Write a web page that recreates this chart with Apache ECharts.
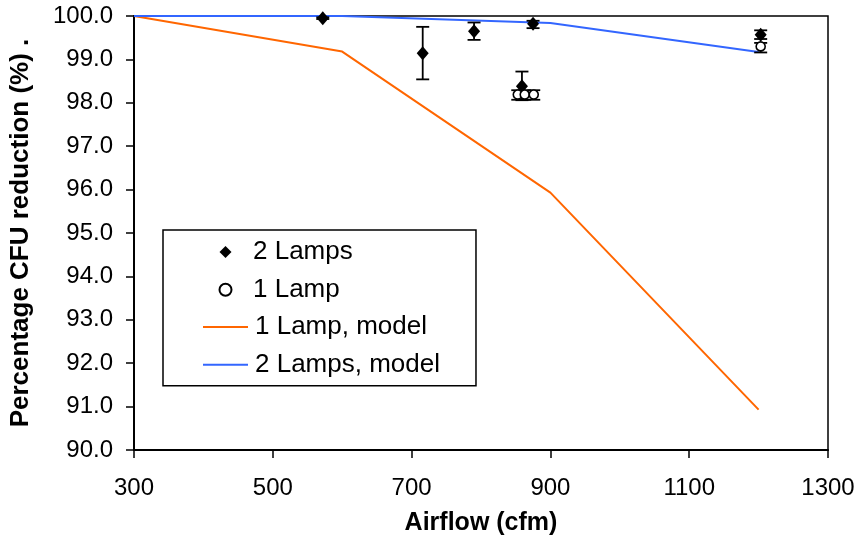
<!DOCTYPE html>
<html>
<head>
<meta charset="utf-8">
<script src="https://cdn.jsdelivr.net/npm/echarts@6/dist/echarts.min.js"></script>
<style>
html,body{margin:0;padding:0;background:#fff;}
#chart{width:858px;height:543px;}
</style>
</head>
<body>
<div id="chart"></div>
<script>
// ---- data ----
const twoLampsX   = [572, 716, 790, 875, 859, 1203];
const twoLampsY   = [99.95, 99.14, 99.65, 99.82, 98.38, 99.57];
const twoLampsLo  = [99.93, 98.54, 99.45, 99.72, 98.06, 99.47];
const twoLampsHi  = [99.97, 99.75, 99.85, 99.89, 98.72, 99.67];

const oneLampX    = [853, 863, 876, 1203];
const oneLampY    = [98.19, 98.19, 98.19, 99.30];
const oneLampLo   = [98.07, 98.07, 98.07, 99.16];
const oneLampHi   = [98.29, 98.29, 98.29, 99.38];

const modelX        = [300, 600, 900, 1200];
const oneLampModel  = [100.0, 99.18, 95.93, 90.93];
const twoLampsModel = [100.0, 100.0, 99.84, 99.17];

const xTicks = [300, 500, 700, 900, 1100, 1300];
const yTicks = [90, 91, 92, 93, 94, 95, 96, 97, 98, 99, 100];

const FONT = '"Liberation Sans", Arial, sans-serif';

function zip(a, b) { return a.map((v, i) => [v, b[i]]); }
function zip3(a, b, c) { return a.map((v, i) => [v, b[i], c[i]]); }

function errRender(params, api) {
  const x = api.value(0), lo = api.value(1), hi = api.value(2);
  const pLo = api.coord([x, lo]), pHi = api.coord([x, hi]);
  const w = 6.5;
  const st = { stroke: '#000', lineWidth: 1.8 };
  return {
    type: 'group',
    children: [
      { type: 'line', shape: { x1: pLo[0], y1: pLo[1], x2: pHi[0], y2: pHi[1] }, style: st },
      { type: 'line', shape: { x1: pLo[0] - w, y1: pLo[1], x2: pLo[0] + w, y2: pLo[1] }, style: st },
      { type: 'line', shape: { x1: pHi[0] - w, y1: pHi[1], x2: pHi[0] + w, y2: pHi[1] }, style: st }
    ]
  };
}

const legendText = { fontFamily: FONT, fontSize: 26, color: '#000' };

const chart = echarts.init(document.getElementById('chart'));
chart.setOption({
  animation: false,
  backgroundColor: '#fff',
  grid: { left: 133, right: 30, top: 16, bottom: 93, show: true, borderColor: '#000', borderWidth: 1.5 },
  xAxis: {
    type: 'value', min: xTicks[0], max: xTicks[xTicks.length - 1], interval: 200,
    name: 'Airflow (cfm)', nameLocation: 'middle', nameGap: 61,
    nameTextStyle: { fontFamily: FONT, fontSize: 25, fontWeight: 'bold', color: '#000' },
    axisLine: { lineStyle: { color: '#000', width: 2 } },
    axisTick: { show: true, inside: false, length: 8, lineStyle: { color: '#000', width: 1.5 } },
    axisLabel: { fontFamily: FONT, fontSize: 24, color: '#000', margin: 26, formatter: v => String(v) },
    splitLine: { show: false }
  },
  yAxis: {
    type: 'value', min: yTicks[0], max: yTicks[yTicks.length - 1], interval: 1,
    name: 'Percentage CFU reduction (%) .', nameLocation: 'middle', nameGap: 100,
    nameTextStyle: { fontFamily: FONT, fontSize: 26, fontWeight: 'bold', color: '#000' },
    axisLine: { lineStyle: { color: '#000', width: 2 } },
    axisTick: { show: true, inside: false, length: 8, lineStyle: { color: '#000', width: 1.5 } },
    axisLabel: { fontFamily: FONT, fontSize: 24, color: '#000', margin: 21, formatter: v => v.toFixed(1) },
    splitLine: { show: false }
  },
  legend: [
    {
      orient: 'vertical', left: 163, top: 230,
      data: [
        { name: '1 Lamp, model', itemStyle: { opacity: 0, color: 'transparent', borderWidth: 0 } },
        { name: '2 Lamps, model', itemStyle: { opacity: 0, color: 'transparent', borderWidth: 0 } }
      ],
      itemWidth: 45, itemHeight: 10, itemGap: 11.7,
      padding: [84, 36, 8, 39],
      borderColor: '#000', borderWidth: 1.5, backgroundColor: '#fff',
      textStyle: Object.assign({ padding: [0, 0, 0, 2] }, legendText),
      z: 4
    },
    {
      orient: 'vertical', left: 218.5, top: 239,
      data: ['2 Lamps', '1 Lamp'],
      itemWidth: 12, itemHeight: 12, itemGap: 11.7,
      padding: 0,
      textStyle: Object.assign({ padding: [0, 0, 0, 16.5] }, legendText),
      z: 5
    }
  ],
  series: [
    {
      name: '1 Lamp, model', type: 'line', data: zip(modelX, oneLampModel),
      symbol: 'none', lineStyle: { color: '#ff6600', width: 2 }, itemStyle: { color: '#ff6600' }, z: 2
    },
    {
      name: '2 Lamps, model', type: 'line', data: zip(modelX, twoLampsModel),
      symbol: 'none', lineStyle: { color: '#3366ff', width: 2 }, itemStyle: { color: '#3366ff' }, z: 2
    },
    {
      type: 'custom', renderItem: errRender, data: zip3(twoLampsX, twoLampsLo, twoLampsHi),
      encode: { x: 0, y: [1, 2] }, z: 3, silent: true
    },
    {
      type: 'custom', renderItem: errRender, data: zip3(oneLampX, oneLampLo, oneLampHi),
      encode: { x: 0, y: [1, 2] }, z: 3, silent: true
    },
    {
      name: '2 Lamps', type: 'scatter', data: zip(twoLampsX, twoLampsY),
      symbol: 'diamond', symbolSize: [12, 14], itemStyle: { color: '#000', opacity: 1 }, z: 4
    },
    {
      name: '1 Lamp', type: 'scatter', data: zip(oneLampX, oneLampY),
      symbol: 'circle', symbolSize: 9, itemStyle: { color: '#fff', borderColor: '#000', borderWidth: 1.6, opacity: 1 }, z: 5
    }
  ]
});
</script>
</body>
</html>
